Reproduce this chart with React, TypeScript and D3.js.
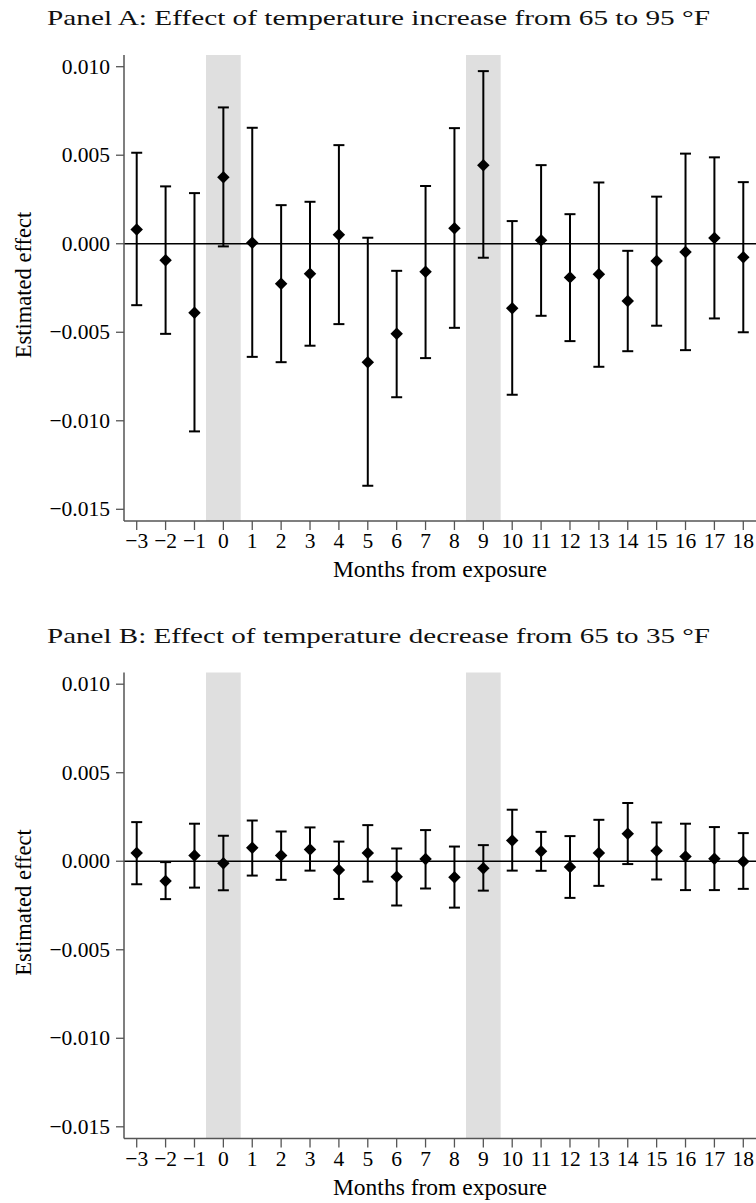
import React from "react";
import * as d3 from "d3";

const months = [-3, -2, -1, 0, 1, 2, 3, 4, 5, 6, 7, 8, 9, 10, 11, 12, 13, 14, 15, 16, 17, 18];

const estA = [0.00081, -0.00093, -0.0039, 0.00376, 0.00006, -0.00226, -0.0017, 0.00051, -0.00669, -0.00509, -0.00158, 0.00088, 0.00444, -0.00364, 0.0002, -0.0019, -0.00173, -0.00324, -0.00098, -0.00047, 0.00032, -0.00076];
const hiA = [0.00514, 0.00324, 0.00286, 0.0077, 0.00655, 0.00218, 0.00237, 0.00557, 0.00034, -0.00153, 0.00326, 0.00653, 0.00975, 0.00128, 0.00444, 0.00167, 0.00346, -0.0004, 0.00266, 0.00509, 0.00488, 0.00348];
const loA = [-0.00347, -0.00509, -0.0106, -0.00015, -0.00639, -0.00669, -0.00576, -0.00454, -0.01367, -0.00867, -0.00646, -0.00475, -0.00079, -0.00853, -0.00407, -0.0055, -0.00695, -0.00607, -0.00463, -0.00601, -0.00422, -0.005];

const estB = [0.00046, -0.00111, 0.00032, -0.00011, 0.00076, 0.00032, 0.00066, -0.0005, 0.00046, -0.00088, 0.00012, -0.0009, -0.00039, 0.00117, 0.00057, -0.00032, 0.00046, 0.00155, 0.00059, 0.00027, 0.00014, -0.00002];
const hiB = [0.00221, -0.00005, 0.00212, 0.00144, 0.0023, 0.00168, 0.00191, 0.00111, 0.00204, 0.00072, 0.00176, 0.00083, 0.00091, 0.00291, 0.00166, 0.00142, 0.00234, 0.00329, 0.00219, 0.00212, 0.00193, 0.00159];
const loB = [-0.0013, -0.00214, -0.00149, -0.00164, -0.00081, -0.00105, -0.00053, -0.00213, -0.00115, -0.0025, -0.00154, -0.00262, -0.00166, -0.00053, -0.00054, -0.00207, -0.00139, -0.00016, -0.00103, -0.00163, -0.00163, -0.00156];

const yTicks = [0.01, 0.005, 0, -0.005, -0.01, -0.015];
const shadedMonths = [0, 9];

const titles = [
  "Panel A: Effect of temperature increase from 65 to 95 \u00B0F",
  "Panel B: Effect of temperature decrease from 65 to 35 \u00B0F",
];

const fmtY = (v: number) => {
  const s = d3.format(".3f")(Math.abs(v));
  return v < 0 ? "\u2212" + s : s;
};
const fmtX = (v: number) => (v < 0 ? "\u2212" + Math.abs(v) : String(v));

const LEFT = 124;
const RIGHT = 756;
const PANEL_H_OFFSET = 617.5;

const x = d3.scaleLinear().domain([-3.44, 18.44]).range([LEFT, RIGHT]);

const diamond = d3.symbol().type(d3.symbolSquare).size(78)();

function Panel({ est, lo, hi, title, dy }: { est: number[]; lo: number[]; hi: number[]; title: string; dy: number }) {
  const top = 55;
  const bottom = 521;
  const y = d3.scaleLinear().domain([-0.015, 0.01]).range([509.3, 66.7]);
  const serif = "'Liberation Serif', 'Times New Roman', serif";
  return (
    <g transform={`translate(0,${dy})`}>
      <text x={47} y={25} fontFamily={serif} fontSize={22} textLength={663} lengthAdjust="spacingAndGlyphs" fill="#111">
        {title}
      </text>
      {shadedMonths.map((m) => (
        <rect key={m} x={x(m - 0.6)} y={top} width={x(m + 0.6) - x(m - 0.6)} height={bottom - top} fill="#dfdfdf" />
      ))}
      <line x1={LEFT} x2={RIGHT} y1={y(0)} y2={y(0)} stroke="#000" strokeWidth={1.6} />
      <line x1={LEFT} x2={LEFT} y1={top} y2={bottom} stroke="#555" strokeWidth={1.5} />
      <line x1={LEFT} x2={RIGHT} y1={bottom} y2={bottom} stroke="#555" strokeWidth={1.5} />
      {yTicks.map((t) => (
        <g key={t}>
          <line x1={LEFT - 8} x2={LEFT} y1={y(t)} y2={y(t)} stroke="#555" strokeWidth={1.3} />
          <text x={110} y={y(t) + 7} textAnchor="end" fontFamily={serif} fontSize={21.5} fill="#000">
            {fmtY(t)}
          </text>
        </g>
      ))}
      {months.map((m) => (
        <g key={m}>
          <line x1={x(m)} x2={x(m)} y1={bottom} y2={bottom + 9} stroke="#555" strokeWidth={1.3} />
          <text x={x(m)} y={548} textAnchor="middle" fontFamily={serif} fontSize={21.5} fill="#000">
            {fmtX(m)}
          </text>
        </g>
      ))}
      <text
        transform={`translate(31,${(top + bottom) / 2 - 3}) rotate(-90)`}
        textAnchor="middle"
        fontFamily={serif}
        fontSize={22.5}
        fill="#000"
      >
        Estimated effect
      </text>
      <text x={x(7.5)} y={577} textAnchor="middle" fontFamily={serif} fontSize={23.5} fill="#000">
        Months from exposure
      </text>
      {months.map((m, i) => (
        <g key={"e" + m} stroke="#000" strokeWidth={2}>
          <line x1={x(m)} x2={x(m)} y1={y(lo[i])} y2={y(hi[i])} />
          <line x1={x(m) - 5.5} x2={x(m) + 5.5} y1={y(lo[i])} y2={y(lo[i])} />
          <line x1={x(m) - 5.5} x2={x(m) + 5.5} y1={y(hi[i])} y2={y(hi[i])} />
        </g>
      ))}
      {months.map((m, i) => (
        <path key={"d" + m} d={diamond || ""} transform={`translate(${x(m)},${y(est[i])}) rotate(45)`} fill="#000" />
      ))}
    </g>
  );
}

export default function App() {
  return (
    <svg
      width={756}
      height={1203}
      viewBox="0 0 756 1203"
      style={{ position: "absolute", left: 0, top: 0, background: "#fff" }}
    >
      <rect x={0} y={0} width={756} height={1203} fill="#fff" />
      <Panel est={estA} lo={loA} hi={hiA} title={titles[0]} dy={0} />
      <Panel est={estB} lo={loB} hi={hiB} title={titles[1]} dy={PANEL_H_OFFSET} />
    </svg>
  );
}
